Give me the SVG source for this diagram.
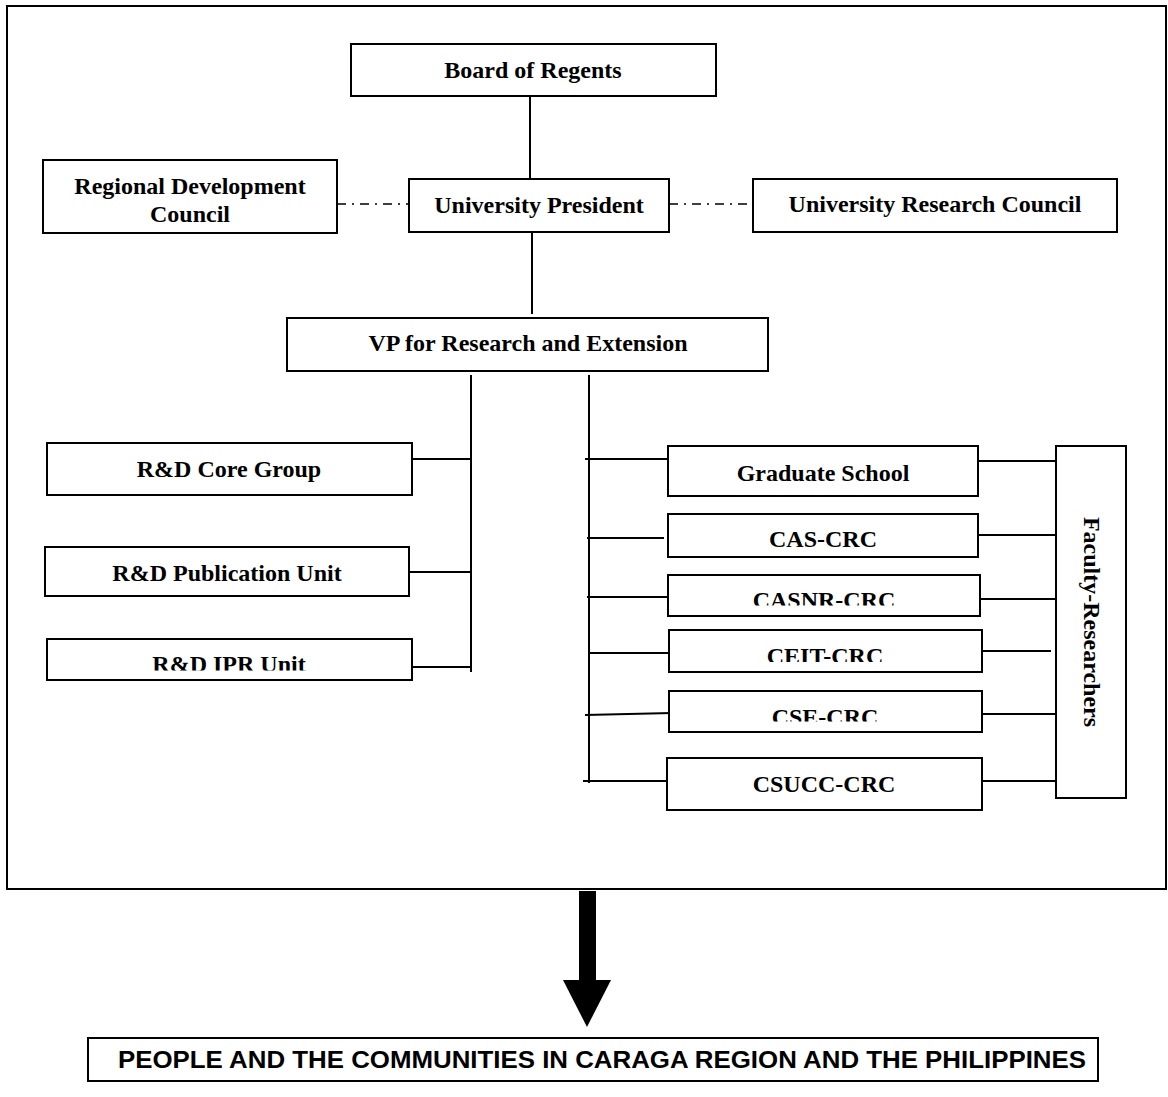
<svg xmlns="http://www.w3.org/2000/svg" width="1168" height="1097" viewBox="0 0 1168 1097">
<style>
.box{fill:#fff;stroke:#000;stroke-width:2}
.t{font-family:"Liberation Serif","Times New Roman",serif;font-weight:bold;font-size:24px;fill:#000;text-anchor:middle}
.ln{stroke:#000;stroke-width:2;fill:none}
.dd{stroke:#000;stroke-width:1.4;fill:none;stroke-dasharray:9 6 2 6}
.s{font-family:"Liberation Sans",Arial,sans-serif;font-weight:bold;font-size:23px;fill:#000;text-anchor:middle}
</style>
<defs>
<clipPath id="cIPR"><rect x="47" y="639" width="365" height="31.5"/></clipPath>
<clipPath id="cCASNR"><rect x="668" y="575" width="312" height="30.5"/></clipPath>
<clipPath id="cCEIT"><rect x="669" y="630" width="313" height="32"/></clipPath>
<clipPath id="cCSE"><rect x="669" y="691" width="313" height="30.5"/></clipPath>
</defs>
<rect id="frame" x="7" y="6" width="1159" height="883" fill="none" stroke="#000" stroke-width="2"/>
<g id="connectors">
<line class="ln" x1="530" y1="96" x2="530" y2="179"/>
<line class="ln" x1="532" y1="232" x2="532" y2="314"/>
<line class="dd" x1="337" y1="204" x2="409" y2="204"/>
<line class="dd" x1="669" y1="204" x2="753" y2="204"/>
<line class="ln" x1="471" y1="375" x2="471" y2="672"/>
<line class="ln" x1="589" y1="375" x2="589" y2="783"/>
<line class="ln" x1="407" y1="459" x2="471" y2="459"/>
<line class="ln" x1="409" y1="572" x2="471" y2="572"/>
<line class="ln" x1="412" y1="667" x2="471" y2="667"/>
<line class="ln" x1="585" y1="459" x2="668" y2="459"/>
<line class="ln" x1="587" y1="538" x2="664" y2="538"/>
<line class="ln" x1="587" y1="597" x2="668" y2="597"/>
<line class="ln" x1="589" y1="653" x2="669" y2="653"/>
<line class="ln" x1="585" y1="715" x2="672" y2="713"/>
<line class="ln" x1="583" y1="781" x2="667" y2="781"/>
<line class="ln" x1="978" y1="461" x2="1057" y2="461"/>
<line class="ln" x1="978" y1="535" x2="1061" y2="535"/>
<line class="ln" x1="980" y1="599" x2="1057" y2="599"/>
<line class="ln" x1="982" y1="651" x2="1051" y2="651"/>
<line class="ln" x1="982" y1="714" x2="1057" y2="714"/>
<line class="ln" x1="978" y1="781" x2="1057" y2="781"/>
</g>
<g id="bor"><rect class="box" x="351" y="44" width="365" height="52"/><text class="t" x="533" y="78">Board of Regents</text></g>
<g id="rdc"><rect class="box" x="43" y="160" width="294" height="73"/><text class="t" x="190" y="194">Regional Development</text><text class="t" x="190" y="222">Council</text></g>
<g id="up"><rect class="box" x="409" y="179" width="260" height="53"/><text class="t" x="539" y="213">University President</text></g>
<g id="urc"><rect class="box" x="753" y="179" width="364" height="53"/><text class="t" x="935" y="212">University Research Council</text></g>
<g id="vp"><rect class="box" x="287" y="318" width="481" height="53"/><text class="t" x="528" y="351">VP for Research and Extension</text></g>
<g id="core"><rect class="box" x="47" y="443" width="365" height="52"/><text class="t" x="229" y="477">R&amp;D Core Group</text></g>
<g id="pub"><rect class="box" x="45" y="547" width="364" height="49"/><text class="t" x="227" y="581">R&amp;D Publication Unit</text></g>
<g id="ipr"><rect class="box" x="47" y="639" width="365" height="41"/><text class="t" x="229" y="672" clip-path="url(#cIPR)">R&amp;D IPR Unit</text></g>
<g id="gs"><rect class="box" x="668" y="446" width="310" height="50"/><text class="t" x="823" y="481">Graduate School</text></g>
<g id="cas"><rect class="box" x="668" y="514" width="310" height="43"/><text class="t" x="823" y="547">CAS-CRC</text></g>
<g id="casnr"><rect class="box" x="668" y="575" width="312" height="41"/><text class="t" x="824" y="608" clip-path="url(#cCASNR)">CASNR-CRC</text></g>
<g id="ceit"><rect class="box" x="669" y="630" width="313" height="42"/><text class="t" x="825" y="664" clip-path="url(#cCEIT)">CEIT-CRC</text></g>
<g id="cse"><rect class="box" x="669" y="691" width="313" height="41"/><text class="t" x="825" y="725" clip-path="url(#cCSE)">CSE-CRC</text></g>
<g id="csucc"><rect class="box" x="667" y="758" width="315" height="52"/><text class="t" x="824" y="792">CSUCC-CRC</text></g>
<g id="faculty"><rect class="box" x="1056" y="446" width="70" height="352"/><text class="t" transform="translate(1084 622) rotate(90)" x="0" y="0">Faculty-Researchers</text></g>
<g id="arrow"><rect x="579" y="891" width="17" height="90" fill="#000"/><polygon points="563,980 611,980 587,1027" fill="#000"/></g>
<g id="people"><rect class="box" x="88" y="1038" width="1010" height="43"/><text class="s" x="602" y="1068" textLength="968" lengthAdjust="spacingAndGlyphs">PEOPLE AND THE COMMUNITIES IN CARAGA REGION AND THE PHILIPPINES</text></g>
</svg>
